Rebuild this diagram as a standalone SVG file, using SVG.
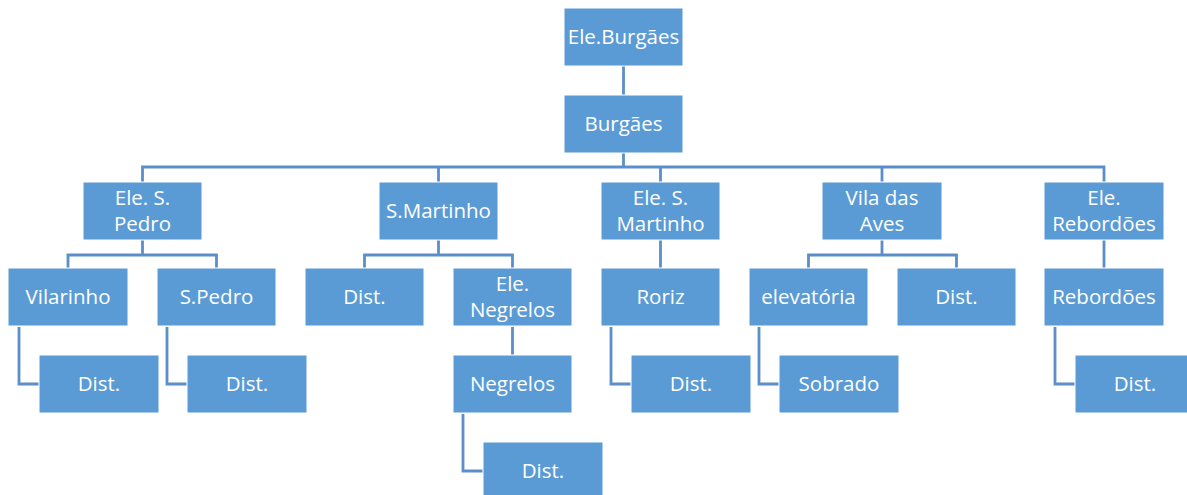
<svg xmlns="http://www.w3.org/2000/svg" width="1187" height="495" viewBox="0 0 1187 495">
<style>
.n rect{fill:#5B9BD5;stroke:#ffffff;stroke-width:1}
.n text{fill:#ffffff;font-family:"Open Sans","Liberation Sans",sans-serif;font-size:20.5px;text-anchor:middle}
#connectors path{fill:none;stroke:#5B8FCA;stroke-width:2.8}
</style>
<rect width="1187" height="495" fill="#ffffff"/>
<g id="connectors">
<path d="M623.5 66V95"/>
<path d="M623.5 153V167M142.5 182V167H1104V182M438.5 167V182M660.5 167V182M882 167V182"/>
<path d="M142.5 240V255M68 268V255H216.5V268"/>
<path d="M438.5 240V255M364.5 268V255H512.5V268"/>
<path d="M660.5 240V268"/>
<path d="M882 240V255M808.5 268V255H956.5V268"/>
<path d="M1104 240V268"/>
<path d="M19 327V384H39"/>
<path d="M167 327V384H187"/>
<path d="M512.5 327V355"/>
<path d="M463 414V471H483"/>
<path d="M611 327V384H631"/>
<path d="M759 327V384H779"/>
<path d="M1055 327V384H1075"/>
</g>
<g id="n-ele-burgaes" class="n"><rect x="564" y="8" width="119" height="58"/><text x="623.5" y="44">Ele.Burgães</text></g>
<g id="n-burgaes" class="n"><rect x="564" y="95" width="119" height="58"/><text x="623.5" y="131">Burgães</text></g>
<g id="n-ele-s-pedro" class="n"><rect x="83" y="182" width="119" height="58"/><text x="142.5" y="204.5">Ele. S.</text><text x="142.5" y="231">Pedro</text></g>
<g id="n-s-martinho" class="n"><rect x="379" y="182" width="119" height="58"/><text x="438.5" y="218">S.Martinho</text></g>
<g id="n-ele-s-martinho" class="n"><rect x="601" y="182" width="119" height="58"/><text x="660.5" y="204.5">Ele. S.</text><text x="660.5" y="231">Martinho</text></g>
<g id="n-vila-das-aves" class="n"><rect x="822" y="182" width="120" height="58"/><text x="882" y="204.5">Vila das</text><text x="882" y="231">Aves</text></g>
<g id="n-ele-rebordoes" class="n"><rect x="1044" y="182" width="120" height="58"/><text x="1104" y="204.5">Ele.</text><text x="1104" y="231">Rebordões</text></g>
<g id="n-vilarinho" class="n"><rect x="8" y="268" width="120" height="58"/><text x="68" y="304">Vilarinho</text></g>
<g id="n-s-pedro" class="n"><rect x="157" y="268" width="119" height="58"/><text x="216.5" y="304">S.Pedro</text></g>
<g id="n-dist-sm" class="n"><rect x="305" y="268" width="119" height="58"/><text x="364.5" y="304">Dist.</text></g>
<g id="n-ele-negrelos" class="n"><rect x="453" y="268" width="119" height="58"/><text x="512.5" y="290.5">Ele.</text><text x="512.5" y="317">Negrelos</text></g>
<g id="n-roriz" class="n"><rect x="601" y="268" width="119" height="58"/><text x="660.5" y="304">Roriz</text></g>
<g id="n-elevatoria" class="n"><rect x="749" y="268" width="119" height="58"/><text x="808.5" y="304">elevatória</text></g>
<g id="n-dist-va" class="n"><rect x="897" y="268" width="119" height="58"/><text x="956.5" y="304">Dist.</text></g>
<g id="n-rebordoes" class="n"><rect x="1044" y="268" width="120" height="58"/><text x="1104" y="304">Rebordões</text></g>
<g id="n-dist-vilarinho" class="n"><rect x="39" y="355" width="120" height="58"/><text x="99" y="391">Dist.</text></g>
<g id="n-dist-spedro" class="n"><rect x="187" y="355" width="120" height="58"/><text x="247" y="391">Dist.</text></g>
<g id="n-negrelos" class="n"><rect x="453" y="355" width="119" height="58"/><text x="512.5" y="391">Negrelos</text></g>
<g id="n-dist-roriz" class="n"><rect x="631" y="355" width="120" height="58"/><text x="691" y="391">Dist.</text></g>
<g id="n-sobrado" class="n"><rect x="779" y="355" width="120" height="58"/><text x="839" y="391">Sobrado</text></g>
<g id="n-dist-rebordoes" class="n"><rect x="1075" y="355" width="120" height="58"/><text x="1135" y="391">Dist.</text></g>
<g id="n-dist-negrelos" class="n"><rect x="483" y="442" width="120" height="58"/><text x="543" y="478">Dist.</text></g>
</svg>
